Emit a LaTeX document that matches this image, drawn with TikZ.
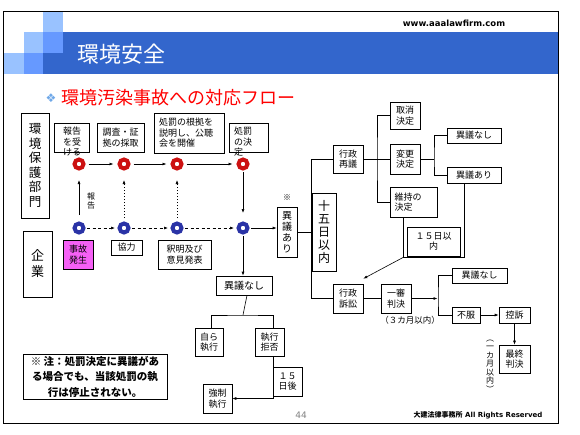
\documentclass[tikz,border=0pt]{standalone}
\usepackage{fontspec}
\usetikzlibrary{arrows.meta}
\newfontfamily\jp{Noto Sans CJK JP}
\newfontfamily\dv{DejaVu Sans}
\definecolor{bannerBlue}{HTML}{3366CC}
\definecolor{midBlue}{HTML}{6699FF}
\definecolor{paleBlue}{HTML}{99C2FF}
\definecolor{bulletBlue}{HTML}{6FA8E8}
\definecolor{titleRed}{HTML}{FF0000}
\definecolor{ringRed}{HTML}{CC1111}
\definecolor{ringBlue}{HTML}{2A33A6}
\definecolor{accidentPink}{HTML}{F560F5}

\begin{document}
\begin{tikzpicture}[x=1pt, y=-1pt, >={Latex[length=4pt,width=3pt]},
  font=\jp\fontsize{9}{10.5}\selectfont,
  box/.style={draw, line width=0.6pt, fill=white, inner sep=0pt, align=center},
  vtext/.style={align=center, inner sep=0pt},
  redring/.style={circle, draw=ringRed, line width=4pt, minimum size=9pt, inner sep=0pt},
  bluering/.style={circle, draw=ringBlue, line width=4pt, minimum size=9pt, inner sep=0pt},
  link/.style={line width=0.6pt},
  dashlink/.style={line width=0.6pt, dash pattern=on 3pt off 2.5pt},
  dotlink/.style={line width=0.6pt, dash pattern=on 1.5pt off 1.5pt}]
  \useasboundingbox (0,0) rectangle (580,434);
  % frame and header
  \draw[line width=1pt] (3.5,11.5) rectangle (558.5,423.5);
  \fill[bannerBlue] (43,32) rectangle (558,73.5);
  \fill[paleBlue] (43,12) rectangle (63,32);
  \fill[paleBlue] (24,32) rectangle (43,53);
  \fill[midBlue] (43,32) rectangle (63,53);
  \fill[paleBlue] (4,53) rectangle (24,73.5);
  \fill[midBlue] (24,53) rectangle (43,73.5);
  \node[anchor=west, inner sep=0pt, text=white, font=\jp\fontsize{22}{22}\selectfont] (title) at (77,54) {環境安全};
  \node[inner sep=0pt, font=\dv\bfseries\fontsize{8.5}{8.5}\selectfont] (url) at (454,23) {www.aaalawfirm.com};
  \node[inner sep=0pt, text=bulletBlue, font=\dv\fontsize{12}{12}\selectfont] (bullet) at (51,98) {❖};
  \node[anchor=west, inner sep=0pt, text=titleRed, font=\jp\fontsize{18}{18}\selectfont] (subtitle) at (61,98) {環境汚染事故への対応フロー};

  % left column
  \node[box, minimum width=28pt, minimum height=105pt, font=\jp\fontsize{12.5}{14.5}\selectfont] (agency) at (35,165.5) {環\\境\\保\\護\\部\\門};
  \node[box, minimum width=29pt, minimum height=66pt, font=\jp\fontsize{13}{16}\selectfont] (firm) at (37.5,264) {企\\業};

  % agency steps
  \node[box, minimum width=35pt, minimum height=29pt] (receive) at (71.5,137.5) {};
  \node[vtext, anchor=north] (receiveText) at (72,127) {報告\\を受\\ける};
  \node[box, minimum width=47pt, minimum height=29pt] (survey) at (120.5,137.5) {調査・証\\拠の採取};
  \node[box, minimum width=70pt, minimum height=40pt, text width=60pt, align=left] (hearing) at (189,133) {処罰の根拠を\\説明し、公聴\\会を開催};
  \node[box, minimum width=39pt, minimum height=29pt] (decide) at (248.5,137.5) {};
  \node[vtext, anchor=north west, align=left] (decideText) at (234,127) {処罰\\の決\\定};

  % firm steps
  \node[box, fill=accidentPink, minimum width=30pt, minimum height=29pt] (accident) at (78,254.5) {事故\\発生};
  \node[box, minimum width=31pt, minimum height=15pt] (coop) at (126.5,247.5) {協力};
  \node[box, minimum width=53pt, minimum height=29pt] (explain) at (184.5,254.5) {釈明及び\\意見発表};

  % rings and arrows
  \foreach \x [count=\i] in {79,124,177,243} {
    \node[redring] (r\i) at (\x,164) {};
    \node[bluering] (b\i) at (\x,228) {};
  }
  \foreach \i/\j in {1/2,2/3,3/4} {
    \draw[link, ->, shorten <=3pt, shorten >=4pt] (r\i) -- (r\j);
    \draw[dashlink, ->, shorten <=1.5pt, shorten >=2.5pt] (b\i) -- (b\j);
  }
  \draw[link, ->, shorten <=6.5pt, shorten >=9.5pt] (b1) -- (r1);
  \node[vtext, font=\jp\fontsize{8}{9.5}\selectfont] (reportLabel) at (91,201) {報\\告};
  \draw[dotlink, ->, shorten <=3.5pt, shorten >=9.5pt] (b2) -- (r2);
  \draw[dotlink, ->, shorten <=3.5pt, shorten >=9.5pt] (b3) -- (r3);
  \draw[link, ->, shorten <=1.5pt, shorten >=8.5pt] (r4) -- (b4);

  % no objection
  \node[box, minimum width=56pt, minimum height=19pt, font=\jp\fontsize{10}{12}\selectfont] (noObj) at (244,285.5) {異議なし};
  \draw[link, ->, shorten <=1.5pt] (b4) -- (b4 |- noObj.north);
  \coordinate (noObjFork) at (243,315);
  \draw[link] ([xshift=3pt]noObj.south) -- (noObjFork);
  \node[box, minimum width=28pt, minimum height=28pt] (selfExec) at (209,342) {自ら\\執行};
  \node[box, minimum width=29pt, minimum height=28pt] (refuse) at (269.5,342) {執行\\拒否};
  \draw[link] ([xshift=2pt]selfExec.north) |- (noObjFork) -| ([xshift=3.5pt]refuse.north);
  \node[box, minimum width=29pt, minimum height=29pt] (force) at (217.5,398.5) {強制\\執行};
  \node[box, minimum width=29pt, minimum height=29pt] (after15) at (287.5,381.5) {１５\\日後};
  \draw[link, ->] ([xshift=3.5pt]refuse.south) |- (force.east);

  % note
  \node[box, minimum width=144pt, minimum height=45pt, font=\jp\bfseries\fontsize{10.5}{15.5}\selectfont] (note) at (95,376.5) {※ 注：処罰決定に異議があ\\る場合でも、当該処罰の執\\行は停止されない。};

  % objection
  \node[box, minimum width=20pt, minimum height=50pt, font=\jp\fontsize{10}{11}\selectfont] (objYes) at (287,232) {異\\議\\あ\\り};
  \node[vtext, font=\jp\fontsize{8}{8}\selectfont] (mark) at (287,198) {※};
  \draw[link, ->, shorten <=1.5pt] (b4) -- (b4 -| objYes.west);
  \node[box, minimum width=24pt, minimum height=78pt, font=\jp\fontsize{12}{13}\selectfont] (within15) at (324,232) {十\\五\\日\\以\\内};
  \draw[link] (objYes.east) -- (objYes.east -| within15.west);
  \node[box, minimum width=30pt, minimum height=28pt] (review) at (348,159) {行政\\再議};
  \node[box, minimum width=30pt, minimum height=29pt] (suit) at (348,298.5) {行政\\訴訟};
  \draw[link] (review.west) -| (within15.north west) -- (within15.south west) |- (suit.west);

  % administrative review
  \node[box, minimum width=30pt, minimum height=27pt] (cancel) at (405,115.5) {取消\\決定};
  \node[box, minimum width=30pt, minimum height=30pt] (change) at (405,159) {変更\\決定};
  \node[box, minimum width=47pt, minimum height=30pt, text width=38pt, align=left] (keep) at (413.5,202) {維持の\\決定};
  \coordinate (reviewFork) at (377,159);
  \draw[link] (review.east) -- (reviewFork);
  \draw[link] (cancel.west) -| (reviewFork) |- (keep.west);
  \draw[link] (reviewFork) -- (change.west);
  \node[box, minimum width=54pt, minimum height=15pt] (noObj2) at (474,135.5) {異議なし};
  \node[box, minimum width=54pt, minimum height=16pt] (yesObj2) at (474,175) {異議あり};
  \coordinate (changeFork) at (434,159);
  \draw[link] (change.east) -- (changeFork);
  \draw[link] (noObj2.west) -| (changeFork) |- (yesObj2.west);
  \node[box, minimum width=53pt, minimum height=29pt] (in15) at (433.5,241.5) {１５日以\\内};
  \coordinate (loopR) at (464,257.5);
  \coordinate (loopL) at (403,257.5);
  \draw[link] (loopR |- yesObj2.south) -- (loopR) -- (loopL);
  \draw[link] (loopL |- keep.south) -- (loopL);
  \draw[link, ->] (loopL) -- ([yshift=5pt]suit.north east);

  % court
  \node[box, minimum width=30pt, minimum height=29pt] (first) at (396,298.5) {一審\\判決};
  \draw[link] (suit.east) -- (first.west);
  \node[vtext, font=\jp\fontsize{8.5}{8.5}\selectfont] (threeMonth) at (410,320) {（３カ月以内）};
  \coordinate (firstFork) at (438,298.5);
  \draw[link, ->, shorten >=0.5pt] (first.east) -- (firstFork);
  \node[box, minimum width=55pt, minimum height=15pt] (noObj3) at (479.5,275.5) {異議なし};
  \node[box, minimum width=28pt, minimum height=16pt] (dissat) at (466,315) {不服};
  \draw[link] (noObj3.west) -| (firstFork) |- (dissat.west);
  \node[box, minimum width=31pt, minimum height=16pt] (appeal) at (514.5,315) {控訴};
  \draw[link, ->] (dissat) -- (appeal);
  \node[box, minimum width=31pt, minimum height=28pt] (final) at (514.5,359) {最終\\判決};
  \draw[link, ->] (appeal) -- (final);
  \node[vtext, font=\jp\fontsize{8}{8.5}\selectfont] (oneMonth) at (490,366) {︵\\一\\カ\\月\\以\\内\\︶};

  % footer
  \node[inner sep=0pt, text=gray, font=\dv\fontsize{9}{9}\selectfont] (page) at (301,415) {44};
  \node[inner sep=0pt, font=\fontsize{7}{7}\selectfont] (footer) at (478,415) {{\jp\bfseries 大建法律事務所} {\dv\bfseries All Rights Reserved}};
\end{tikzpicture}
\end{document}
